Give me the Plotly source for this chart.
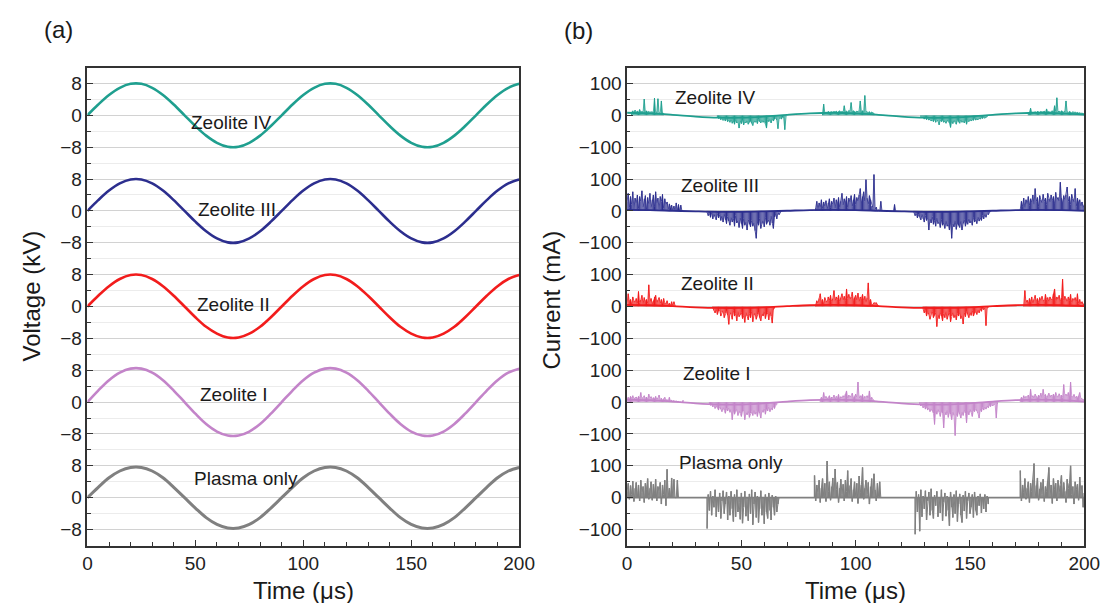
import plotly.graph_objects as go

# ---------------- DATA ----------------
series_names = ["Plasma only", "Zeolite I", "Zeolite II", "Zeolite III", "Zeolite IV"]
series_colors = ["#808080", "#c384c9", "#f21c1c", "#2c2e8e", "#1f9f8f"]

time_v = [0, 5, 10, 15, 20, 25, 30, 35, 40, 45, 50, 55, 60, 65, 70, 75, 80, 85, 90, 95,
          100, 105, 110, 115, 120, 125, 130, 135, 140, 145, 150, 155, 160, 165, 170, 175,
          180, 185, 190, 195, 200]
volt_plasma = [0, 2.6, 5.0, 6.7, 7.6, 7.6, 6.7, 5.0, 2.6, 0, -2.6, -5.0, -6.7, -7.6, -7.6, -6.7, -5.0, -2.6,
               0, 2.6, 5.0, 6.7, 7.6, 7.6, 6.7, 5.0, 2.6, 0, -2.6, -5.0, -6.7, -7.6, -7.6, -6.7, -5.0, -2.6,
               0, 2.6, 5.0, 6.7, 7.6]
volt_z1 = [0, 2.9, 5.5, 7.4, 8.4, 8.4, 7.4, 5.5, 2.9, 0, -2.9, -5.5, -7.4, -8.4, -8.4, -7.4, -5.5, -2.9,
           0, 2.9, 5.5, 7.4, 8.4, 8.4, 7.4, 5.5, 2.9, 0, -2.9, -5.5, -7.4, -8.4, -8.4, -7.4, -5.5, -2.9,
           0, 2.9, 5.5, 7.4, 8.4]
volt_z2 = [0, 2.7, 5.1, 6.9, 7.9, 7.9, 6.9, 5.1, 2.7, 0, -2.7, -5.1, -6.8, -7.8, -7.8, -6.8, -5.1, -2.7,
           0, 2.7, 5.1, 6.9, 7.9, 7.9, 6.9, 5.1, 2.7, 0, -2.7, -5.1, -6.8, -7.8, -7.8, -6.8, -5.1, -2.7,
           0, 2.7, 5.1, 6.9, 7.9]
volt_z3 = [0, 2.7, 5.1, 6.9, 7.9, 7.9, 6.9, 5.1, 2.7, 0, -2.7, -5.1, -6.9, -7.9, -7.9, -6.9, -5.1, -2.7,
           0, 2.7, 5.1, 6.9, 7.9, 7.9, 6.9, 5.1, 2.7, 0, -2.7, -5.1, -6.9, -7.9, -7.9, -6.9, -5.1, -2.7,
           0, 2.7, 5.1, 6.9, 7.9]
volt_z4 = [0, 2.7, 5.1, 6.9, 7.9, 7.9, 6.9, 5.1, 2.7, 0, -2.7, -5.1, -6.9, -7.9, -7.9, -6.9, -5.1, -2.7,
           0, 2.7, 5.1, 6.9, 7.9, 7.9, 6.9, 5.1, 2.7, 0, -2.7, -5.1, -6.9, -7.9, -7.9, -6.9, -5.1, -2.7,
           0, 2.7, 5.1, 6.9, 7.9]
volt_offsets = [0, 24, 48, 72, 96]
volt_tick_steps = [-8, 0, 8]
volt_tick_labels = ["\u22128", "0", "8"]

# (b) current, mA: slow baseline every 10 us + discharge bursts sampled every 0.5 us
time_base = [0, 10, 20, 30, 40, 50, 60, 70, 80, 90, 100, 110, 120, 130, 140, 150, 160, 170, 180, 190, 200]
base_plasma = [0, 0, 0, 0, 0, 0, 0, 0, 0, 0, 0, 0, 0, 0, 0, 0, 0, 0, 0, 0, 0]
base_z1 = [8, 6, 1.5, -4, -7.5, -7.5, -4, 1.5, 6, 8, 6, 1.5, -4, -7.5, -7.5, -4, 1.5, 6, 8, 6, 1.5]
base_z2 = [5, 4, 1, -2.5, -4.5, -4.5, -2.5, 1, 4, 5, 4, 1, -2.5, -4.5, -4.5, -2.5, 1, 4, 5, 4, 1]
base_z3 = [3, 2.5, 0.5, -1.5, -3, -3, -1.5, 0.5, 2.5, 3, 2.5, 0.5, -1.5, -3, -3, -1.5, 0.5, 2.5, 3, 2.5, 0.5]
base_z4 = [8, 6, 1.5, -4, -7.5, -7.5, -4, 1.5, 6, 8, 6, 1.5, -4, -7.5, -7.5, -4, 1.5, 6, 8, 6, 2]
curr_offsets = [0, 300, 600, 900, 1200]
curr_tick_steps = [-100, 0, 100]
curr_tick_labels = ["\u2212100", "0", "100"]
sample_step_us = 0.5

# Plasma only bursts
pl_b1 = [20, 45, -5, 38, 10, 52, -12, 30, 48, 2,
         40, -10, 55, 15, 35, -15, 45, 25, 60, -5,
         30, 50, -8, 42, 12, 58, -10, 35, 20, 48,
         -20, 40, 10, 55, -25, 89, 5, 30, 0, 62,
         2, 58, 0, 0, 55, 0]
pl_b2 = [-97, 10, -40, 20, -55, 5, -30, 25, -60, 0,
         -45, 15, -65, -10, 22, -50, -20, 18, -70, 5,
         -55, 20, -35, -75, 10, -60, 25, -45, -15, -68,
         15, -80, -30, 20, -58, -5, -72, 12, -50, 25,
         -85, -20, 18, -62, 5, -78, -35, 22, -55, 0,
         -82, 10, -45, -65, 15, -40, -70, 8, -30, -55,
         5, -45, -20, 0]
pl_b3 = [70, -10, 40, 15, 55, -15, 30, 60, 5, 45,
         -12, 115, 20, 50, -8, 35, 62, 0, 90, 25,
         48, -15, 30, 58, 10, 42, -10, 55, 20, 85,
         0, 38, 60, -12, 25, 50, 5, 45, -18, 68,
         15, 40, 95, -5, 30, 55, 10, 48, -20, 35,
         60, 0, 75, 25, -10, 45, 5, 50, 0]
pl_b4 = [-115, 20, -45, 10, -105, 25, -60, 5, -35, 22,
         -70, -10, 18, -55, 28, -40, -65, 8, -25, 20,
         -60, 0, -48, 25, -72, -15, 15, -58, 5, -40,
         -88, 18, -30, -62, 10, -50, 22, -75, -20, 12,
         -55, -78, 8, -42, 20, -65, -10, 15, -50, -30,
         10, -62, 18, -40, -55, 5, -25, 12, -48, 0,
         -35, 10, -45, 5, -20]
pl_b5 = [85, -10, 40, 15, 60, -5, 30, 50, -15, 45,
         20, 55, 107, 0, 38, 62, -8, 28, 48, 10,
         58, -12, 35, 20, 52, 95, 5, 40, -18, 60,
         25, 45, -10, 55, 15, 38, 70, 0, 48, 20,
         -15, 58, 30, 45, 100, 10, 35, -20, 50, 25,
         42, -8, 65, 20, 38, -30, 15]
pl_starts = [0.0, 35.0, 82.0, 126.0, 172.0]

# Zeolite I bursts
z1_b1 = [10, 15, 8, 18, 12, 20, 10, 14, 16, 9,
         18, 12, 30, 10, 15, 20, 11, 16, 9, 25,
         12, 17, 8, 14, 10, 18, 9, 13, 22, 8,
         12, 7, 10, 15, 5, 8, 4, 15, 3, 6,
         2, 5, 1, 4, 0, 2, -1, 0, -2, 6]
z1_b2 = [-6, -10, -8, -15, -10, -20, -12, -18, -25, -14,
         -22, -30, -16, -25, -35, -20, -28, -18, -32, -22,
         -55, -25, -38, -30, -22, -42, -28, -35, -45, -30,
         -25, -55, -32, -40, -28, -48, -35, -30, -42, -25,
         -38, -30, -45, -28, -35, -50, -25, -32, -20, -38,
         -22, -28, -15, -30, -18, -25, -12, -20, -10, -8]
z1_b3 = [8, 15, 10, 30, 12, 18, 9, 15, 20, 10,
         16, 12, 22, 8, 18, 14, 24, 10, 17, 12,
         20, 15, 25, 35, 12, 22, 16, 20, 28, 14,
         18, 25, 15, 63, 12, 20, 16, 24, 10, 18,
         14, 20, 12, 35, 9, 15, 8, 6]
z1_b4 = [-6, -12, -8, -18, -12, -22, -15, -25, -18, -30,
         -20, -28, -35, -70, -25, -38, -22, -32, -45, -28,
         -35, -81, -30, -40, -25, -48, -32, -38, -55, -30,
         -42, -105, -35, -45, -28, -38, -50, -30, -42, -25,
         -35, -65, -28, -40, -22, -32, -45, -25, -30, -20,
         -28, -35, -50, -22, -30, -18, -25, -15, -22, -12,
         -18, -10, -14, -8, -12, -6, -8, -50, -6]
z1_b5 = [8, 15, 10, 20, 12, 18, 14, 22, 10, 40,
         15, 20, 12, 25, 18, 14, 22, 16, 28, 12,
         40, 18, 24, 15, 20, 28, 14, 22, 18, 25,
         16, 30, 20, 14, 26, 18, 22, 15, 55, 20,
         25, 18, 30, 16, 63, 20, 14, 24, 12, 18,
         15, 20, 30, 12, 10, 8, 6]
z1_starts = [0.0, 36.0, 84.5, 128.0, 172.0]

# Zeolite II bursts
z2_b1 = [10, 40, 15, 22, 8, 30, 18, 12, 25, 10,
         47, 12, 20, 35, 8, 28, 15, 22, 10, 68,
         15, 25, 8, 18, 30, 35, 12, 20, 28, 10,
         22, 8, 25, 12, 6, 18, 5, 10, 4, 15,
         3, 15, 3]
z2_b2 = [-5, -12, -20, -8, -25, -15, -10, -30, -18, -12,
         -35, -20, -15, -28, -56, -18, -25, -40, -12, -30,
         -22, -45, -15, -32, -25, -20, -38, -28, -50, -18,
         -30, -42, -22, -35, -15, -48, -28, -20, -40, -25,
         -18, -35, -45, -22, -30, -15, -38, -25, -20, -42,
         -15, -30, -52, -10, -5]
z2_b3 = [5, 18, 10, 25, 40, 15, 22, 8, 28, 18,
         12, 30, 20, 35, 15, 25, 50, 18, 30, 22,
         35, 15, 28, 40, 20, 32, 18, 55, 25, 38,
         22, 30, 45, 18, 28, 35, 20, 42, 15, 30,
         25, 38, 18, 32, 12, 28, 74, 15, 22, 8,
         5, 12, 10, 12, 6, 3]
z2_b4 = [-8, -20, -12, -30, -18, -25, -40, -22, -15, -35,
         -28, -20, -63, -25, -38, -18, -30, -45, -22, -35,
         -15, -40, -28, -20, -48, -30, -18, -35, -25, -42,
         -22, -30, -18, -38, -28, -55, -20, -32, -15, -25,
         -35, -18, -28, -12, -30, -22, -15, -25, -10, -20,
         -8, -15, -5, -10, -4, -60, -5, -3]
z2_b5 = [5, 50, 12, 20, 8, 25, 15, 30, 10, 22,
         35, 15, 25, 12, 28, 18, 32, 20, 15, 38,
         22, 28, 15, 30, 20, 25, 40, 55, 18, 30,
         22, 35, 15, 28, 86, 20, 32, 25, 15, 30,
         20, 38, 12, 25, 18, 28, 15, 40, 10, 22,
         8, 15, 5, 10]
z2_starts = [0.0, 37.5, 82.5, 129.5, 173.5]

# Zeolite III bursts
z3_b1 = [30, 55, 10, 45, 20, 60, 5, 40, 25, 50,
         8, 45, 30, 63, 12, 38, 48, 5, 42, 22,
         55, 10, 35, 50, 15, 60, 25, 40, 5, 45,
         30, 52, 8, 38, 20, 28, 5, 22, 10, 18,
         2, 15, 0, 25, 3, 20, 0, 18, 0]
z3_b2 = [-5, -15, -8, -20, -5, -25, -10, -18, -28, -8,
         -22, -12, -30, -15, -35, -10, -28, -40, -18, -32,
         -45, -20, -35, -25, -48, -15, -38, -30, -52, -22,
         -40, -55, -25, -45, -35, -60, -28, -42, -50, -30,
         -48, -38, -62, -86, -35, -45, -25, -55, -40, -30,
         -50, -20, -42, -35, -28, -45, -15, -38, -55, -20,
         -10, -25, -5, -12, -3, 0]
z3_b3 = [10, 30, 5, 25, 12, 35, 8, 28, 15, 32,
         5, 25, 38, 10, 30, 20, 40, 8, 35, 22,
         42, 12, 30, 55, 18, 38, 25, 45, 10, 40,
         28, 48, 15, 35, 52, 20, 42, 30, 50, 70,
         25, 45, 60, 30, 98, 40, 20, 48, 35, 15,
         10, 114, 5, 12, 0, 3, 0, 30, 0]
z3_b3b = [0, 20, 0]
z3_b4 = [-5, -15, -8, -22, -12, -18, -28, -10, -25, -35,
         -15, -30, -20, -60, -25, -38, -18, -42, -30, -48,
         -22, -40, -35, -52, -28, -45, -38, -55, -30, -48,
         -42, -60, -35, -86, -40, -50, -30, -58, -38, -45,
         -52, -32, -60, -40, -28, -48, -35, -42, -25, -38,
         -30, -45, -20, -35, -28, -40, -18, -32, -22, -30,
         -15, -25, -10, -20, -8, -12, -3, 0]
z3_b5 = [5, 30, 15, 40, 10, 35, 22, 45, 18, 38,
         28, 50, 20, 70, 30, 42, 15, 48, 35, 25,
         52, 30, 40, 20, 55, 38, 28, 50, 32, 45,
         22, 58, 35, 42, 30, 90, 40, 25, 48, 35,
         50, 75, 30, 45, 20, 52, 38, 28, 70, 15,
         40, 25, 35, 15, 28, 10, 20]
z3_starts = [0.0, 35.0, 82.5, 116.5, 125.5, 172.0]

# Zeolite IV bursts
z4_b1 = [9, 14, 8, 16, 10, 13, 9, 18, 10, 12,
         10, 51, 9, 14, 10, 12, 9, 11, 10, 12,
         54, 9, 10, 52, 8, 7, 45, 7, 6]
z4_b2 = [-6, -10, -8, -14, -9, -16, -12, -18, -10, -20,
         -14, -22, -12, -25, -18, -28, -15, -24, -20, -40,
         -18, -26, -15, -30, -20, -24, -16, -28, -22, -18,
         -25, -32, -16, -22, -18, -26, -14, -20, -24, -15,
         -22, -16, -26, -40, -14, -20, -12, -24, -10, -18,
         -12, -8, -15, -42, -10, -8, -12, -6, -7, -45, -6]
z4_b3 = [6, 35, 7, 10, 8, 12, 9, 10, 11, 9,
         12, 10, 13, 9, 11, 14, 10, 12, 10, 30,
         11, 13, 10, 15, 12, 40, 11, 14, 12, 10,
         13, 11, 15, 45, 12, 14, 11, 62, 12, 10,
         9, 11, 8, 10, 7, 6]
z4_b4 = [-5, -8, -6, -12, -8, -14, -10, -15, -12, -18,
         -14, -20, -12, -22, -16, -18, -30, -14, -20, -16,
         -22, -18, -25, -15, -20, -24, -38, -18, -26, -15,
         -22, -28, -16, -20, -25, -14, -22, -18, -24, -15,
         -28, -16, -20, -12, -18, -14, -16, -10, -15, -12,
         -14, -9, -12, -8, -10, -7, -9, -6, -5]
z4_b5 = [7, 9, 22, 8, 10, 9, 11, 8, 12, 10,
         9, 12, 10, 11, 13, 9, 20, 10, 12, 9,
         11, 14, 10, 30, 12, 55, 11, 13, 10, 14,
         12, 10, 13, 45, 11, 9, 12, 10, 8, 11,
         9, 10, 8, 9, 7, 8, 6, 7, 5, 6]
z4_starts = [2.0, 39.5, 85.5, 128.5, 175.5]

# --------------- BUILD ---------------
W, H = 1116, 603
FONT = "Liberation Sans, Arial, Helvetica, sans-serif"
AXC = "#333333"

volt_series = [volt_plasma, volt_z1, volt_z2, volt_z3, volt_z4]
base_series = [base_plasma, base_z1, base_z2, base_z3, base_z4]
burst_series = [
    list(zip(pl_starts, [pl_b1, pl_b2, pl_b3, pl_b4, pl_b5])),
    list(zip(z1_starts, [z1_b1, z1_b2, z1_b3, z1_b4, z1_b5])),
    list(zip(z2_starts, [z2_b1, z2_b2, z2_b3, z2_b4, z2_b5])),
    list(zip(z3_starts, [z3_b1, z3_b2, z3_b3, z3_b3b, z3_b4, z3_b5])),
    list(zip(z4_starts, [z4_b1, z4_b2, z4_b3, z4_b4, z4_b5])),
]
stroke_widths = [1.5, 1.0, 1.0, 1.0, 1.0]
zigzag_widths = [1.0, 0.8, 0.8, 0.8, 0.8]


def burst_segments(bursts, offset):
    """Each sample drawn as a thin vertical stroke from the trace's zero to the value."""
    xs, ys = [], []
    for t0, vals in bursts:
        for k, v in enumerate(vals):
            t = t0 + k * sample_step_us
            xs += [t, t, None]
            ys += [offset, v + offset, None]
    return xs, ys


def burst_line(bursts, offset):
    xs, ys = [], []
    for t0, vals in bursts:
        for k, v in enumerate(vals):
            xs.append(t0 + k * sample_step_us)
            ys.append(v + offset)
        xs.append(None)
        ys.append(None)
    return xs, ys


fig = go.Figure()
for idx, name in enumerate(series_names):
    col = series_colors[idx]
    fig.add_trace(go.Scatter(
        x=time_v, y=[v + volt_offsets[idx] for v in volt_series[idx]],
        mode="lines", line=dict(color=col, width=3 if idx == 0 else 2.6, shape="spline", smoothing=1.0),
        xaxis="x", yaxis="y", showlegend=False, hoverinfo="skip"))
    sx, sy = burst_segments(burst_series[idx], curr_offsets[idx])
    fig.add_trace(go.Scatter(
        x=sx, y=sy, mode="lines", line=dict(color=col, width=stroke_widths[idx]),
        connectgaps=False, xaxis="x2", yaxis="y2", showlegend=False, hoverinfo="skip"))
    lx, ly = burst_line(burst_series[idx], curr_offsets[idx])
    fig.add_trace(go.Scatter(
        x=lx, y=ly, mode="lines", line=dict(color=col, width=zigzag_widths[idx]),
        connectgaps=False, xaxis="x2", yaxis="y2", showlegend=False, hoverinfo="skip"))
    fig.add_trace(go.Scatter(
        x=time_base, y=[v + curr_offsets[idx] for v in base_series[idx]],
        mode="lines", line=dict(color=col, width=1.8, shape="spline", smoothing=1.0),
        xaxis="x2", yaxis="y2", showlegend=False, hoverinfo="skip"))

volt_tickvals, volt_ticktext = [], []
for o in volt_offsets:
    for s, lab in zip(volt_tick_steps, volt_tick_labels):
        volt_tickvals.append(o + s)
        volt_ticktext.append(lab)
curr_tickvals, curr_ticktext = [], []
for o in curr_offsets:
    for s, lab in zip(curr_tick_steps, curr_tick_labels):
        curr_tickvals.append(o + s)
        curr_ticktext.append(lab)

top_px, bot_px = 67.5, 545.5
ydom = [1 - bot_px / H, 1 - top_px / H]

common_x = dict(range=[0, 200], tickmode="linear", tick0=0, dtick=50,
                ticks="inside", ticklen=6, tickwidth=1.3, tickcolor=AXC,
                minor=dict(tickmode="linear", tick0=0, dtick=10, ticks="inside", ticklen=3.5,
                           tickwidth=1.2, tickcolor=AXC, showgrid=False),
                showline=True, linecolor=AXC, linewidth=1.5, mirror=True,
                showgrid=False, zeroline=False,
                tickfont=dict(family=FONT, size=19, color="#222"))
common_y = dict(ticks="inside", ticklen=6, tickwidth=1.3, tickcolor=AXC,
                showline=True, linecolor=AXC, linewidth=1.5, mirror=True,
                showgrid=True, gridcolor="#d2d2d2", gridwidth=1, zeroline=False,
                tickfont=dict(family=FONT, size=19, color="#222"))

fig.update_layout(
    width=W, height=H, margin=dict(l=0, r=0, t=0, b=0),
    paper_bgcolor="white", plot_bgcolor="white",
    xaxis=dict(domain=[84 / W, 524 / W], anchor="y", **common_x),
    xaxis2=dict(domain=[634 / W, 1100 / W], anchor="y2", **common_x),
    yaxis=dict(domain=ydom, anchor="x", range=[-12, 108], tickmode="array",
               tickvals=volt_tickvals, ticktext=volt_ticktext,
               minor=dict(tickmode="linear", tick0=0, dtick=4, ticks="inside", ticklen=3.5,
                          tickwidth=1.2, tickcolor=AXC, showgrid=True, gridcolor="#ececec", gridwidth=1),
               **common_y),
    yaxis2=dict(domain=ydom, anchor="x2", range=[-150, 1350], tickmode="array",
                tickvals=curr_tickvals, ticktext=curr_ticktext,
                minor=dict(tickmode="linear", tick0=0, dtick=50, ticks="inside", ticklen=3.5,
                           tickwidth=1.2, tickcolor=AXC, showgrid=True, gridcolor="#ececec", gridwidth=1),
                **common_y),
)


def ann(text, px, py, size, angle=0):
    fig.add_annotation(text=text, x=px / W, y=1 - py / H, xref="paper", yref="paper",
                       showarrow=False, xanchor="center", yanchor="middle", textangle=angle,
                       font=dict(family=FONT, size=size, color="#1a1a1a"))


ann("(a)", 55, 29, 24)
ann("(b)", 584, 31, 24)
ann("Voltage (kV)", 26, 296, 24, -90)
ann("Current (mA)", 556, 300, 24, -90)
ann("Time (\u03bcs)", 304, 590, 24)
ann("Time (\u03bcs)", 867, 590, 24)

left_label_pos = [(246, 478), (233, 394), (233, 304), (236, 210), (231, 123)]
right_label_pos = [(740, 463), (726, 373), (726, 283), (729, 185), (724, 97)]
for idx, name in enumerate(series_names):
    ann(name, left_label_pos[idx][0], left_label_pos[idx][1], 19)
    ann(name, right_label_pos[idx][0], right_label_pos[idx][1], 19)

fig.write_html("out.html", config={"displayModeBar": False},
               post_script="document.body.style.margin='0';document.body.style.overflow='hidden';")
